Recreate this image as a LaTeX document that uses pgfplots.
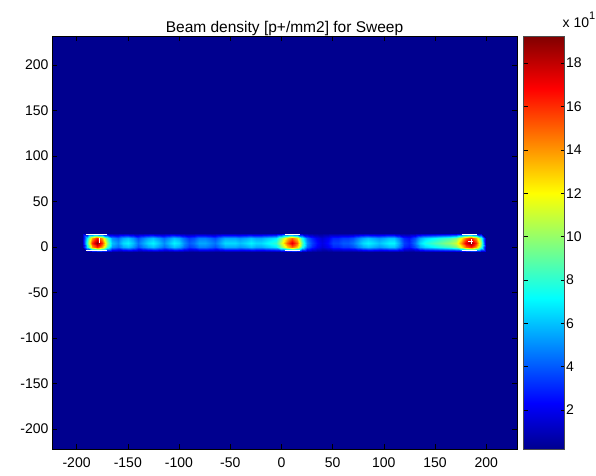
\documentclass[border=0pt]{standalone}
\usepackage{pgfplots}
\pgfplotsset{compat=1.18}
\usepackage{fontspec}
\setmainfont{Liberation Sans}
\definecolor{jetbg}{rgb}{0,0,0.5625}
\pgfplotsset{colormap={mjet}{rgb255(0cm)=(0,0,143); rgb255(7cm)=(0,0,255); rgb255(23cm)=(0,255,255); rgb255(39cm)=(255,255,0); rgb255(55cm)=(255,0,0); rgb255(63cm)=(128,0,0)}}
\begin{document}
\begin{tikzpicture}
\begin{axis}[name=main, scale only axis, width=465pt, height=413pt,
  xmin=-224, xmax=230, ymin=-222, ymax=232,
  axis background/.style={fill=jetbg},
  colormap name=mjet, point meta min=0.2, point meta max=19.25,
  xtick={-200,-150,...,200}, ytick={-200,-150,...,200},
  tick align=inside, major tick length=5pt, tick style={black, line width=0.5pt},
  ticklabel style={font=\fontsize{14}{16}\selectfont},
  xticklabel style={yshift=-5pt},
  /pgf/number format/assume math mode=true,
  title={Beam density [p+/mm2] for Sweep},
  title style={font=\fontsize{15.5}{18}\selectfont, anchor=base, at={(0.5,1)}, yshift=-2.5pt},
  axis line style={black, line width=0.6pt},
  colorbar, colorbar/width=41pt,
  colorbar style={scale only axis, height=413pt,
    at={(parent axis.north east)}, anchor=north west, xshift=-2pt,
    ytick={2,4,...,18}, ytick pos=both, yticklabel pos=right,
    tick align=inside, major tick length=4pt,
    ticklabel style={font=\fontsize{14}{16}\selectfont},
    yticklabel style={xshift=-2pt},
    /pgf/number format/assume math mode=true,
    axis line style={black!70, line width=0.6pt},
    title={x 10\raisebox{8pt}{\fontsize{11}{12}\selectfont 1}},
    title style={font=\fontsize{14}{16}\selectfont, at={(1,1)}, anchor=base west, xshift=-2pt, yshift=2pt, inner sep=0pt}},
]
\addplot[surf, shader=interp, point meta=explicit, mesh/rows=5, mesh/cols=80] table[x index=0, y index=1, meta index=2, row sep=\\, header=false] {
-195 -5 0.2\\ -190 -5 0.2\\ -185 -5 0.2\\ -180 -5 0.2\\ -175 -5 0.2\\ -170 -5 0.2\\ -165 -5 0.2\\ -160 -5 0.2\\
-155 -5 0.2\\ -150 -5 0.2\\ -145 -5 0.2\\ -140 -5 0.2\\ -135 -5 0.2\\ -130 -5 0.2\\ -125 -5 0.2\\ -120 -5 0.2\\
-115 -5 0.2\\ -110 -5 0.2\\ -105 -5 0.2\\ -100 -5 0.2\\ -95 -5 0.2\\ -90 -5 0.2\\ -85 -5 0.2\\ -80 -5 0.2\\
-75 -5 0.2\\ -70 -5 0.2\\ -65 -5 0.2\\ -60 -5 0.2\\ -55 -5 0.2\\ -50 -5 0.2\\ -45 -5 0.2\\ -40 -5 0.2\\
-35 -5 0.2\\ -30 -5 0.2\\ -25 -5 0.2\\ -20 -5 0.2\\ -15 -5 0.2\\ -10 -5 0.2\\ -5 -5 0.2\\ 0 -5 0.2\\
5 -5 0.2\\ 10 -5 0.2\\ 15 -5 0.2\\ 20 -5 0.2\\ 25 -5 0.2\\ 30 -5 0.2\\ 35 -5 0.2\\ 40 -5 0.2\\
45 -5 0.2\\ 50 -5 0.2\\ 55 -5 0.2\\ 60 -5 0.2\\ 65 -5 0.2\\ 70 -5 0.2\\ 75 -5 0.2\\ 80 -5 0.2\\
85 -5 0.2\\ 90 -5 0.2\\ 95 -5 0.2\\ 100 -5 0.2\\ 105 -5 0.2\\ 110 -5 0.2\\ 115 -5 0.2\\ 120 -5 0.2\\
125 -5 0.2\\ 130 -5 0.2\\ 135 -5 0.2\\ 140 -5 0.2\\ 145 -5 0.2\\ 150 -5 0.2\\ 155 -5 0.2\\ 160 -5 0.2\\
165 -5 0.2\\ 170 -5 0.2\\ 175 -5 0.2\\ 180 -5 0.2\\ 185 -5 0.2\\ 190 -5 0.2\\ 195 -5 0.2\\ 200 -5 0.2\\
-195 0 0.2\\ -190 0 6.8\\ -185 0 13.6\\ -180 0 16.3\\ -175 0 13.6\\ -170 0 8.5\\ -165 0 5.1\\ -160 0 4.3\\
-155 0 5.5\\ -150 0 6\\ -145 0 5.1\\ -140 0 3.8\\ -135 0 4.7\\ -130 0 5.5\\ -125 0 6\\ -120 0 5.1\\
-115 0 4.3\\ -110 0 5.1\\ -105 0 6\\ -100 0 5.5\\ -95 0 4.3\\ -90 0 3.4\\ -85 0 3.8\\ -80 0 4.7\\
-75 0 4.7\\ -70 0 4.3\\ -65 0 3.8\\ -60 0 4.7\\ -55 0 5.5\\ -50 0 5.5\\ -45 0 5.5\\ -40 0 5.1\\
-35 0 5.5\\ -30 0 6\\ -25 0 5.5\\ -20 0 5.5\\ -15 0 6\\ -10 0 6.4\\ -5 0 6.8\\ 0 0 9.4\\
5 0 12.8\\ 10 0 14.9\\ 15 0 12.8\\ 20 0 7.7\\ 25 0 4.3\\ 30 0 3\\ 35 0 2.1\\ 40 0 1.5\\
45 0 2.1\\ 50 0 3\\ 55 0 3\\ 60 0 3.4\\ 65 0 3.4\\ 70 0 3.8\\ 75 0 4.7\\ 80 0 5.5\\
85 0 6\\ 90 0 5.5\\ 95 0 5.1\\ 100 0 5.5\\ 105 0 6\\ 110 0 6\\ 115 0 4.7\\ 120 0 3\\
125 0 2.6\\ 130 0 3.8\\ 135 0 5.5\\ 140 0 6.4\\ 145 0 6.8\\ 150 0 7.2\\ 155 0 7.7\\ 160 0 8.1\\
165 0 8.5\\ 170 0 9.4\\ 175 0 11.9\\ 180 0 14.9\\ 185 0 16.3\\ 190 0 13.6\\ 195 0 8.5\\ 200 0 0.2\\
-195 5 0.2\\ -190 5 8\\ -185 5 16\\ -180 5 19.2\\ -175 5 16\\ -170 5 10\\ -165 5 6\\ -160 5 5\\
-155 5 6.5\\ -150 5 7\\ -145 5 6\\ -140 5 4.5\\ -135 5 5.5\\ -130 5 6.5\\ -125 5 7\\ -120 5 6\\
-115 5 5\\ -110 5 6\\ -105 5 7\\ -100 5 6.5\\ -95 5 5\\ -90 5 4\\ -85 5 4.5\\ -80 5 5.5\\
-75 5 5.5\\ -70 5 5\\ -65 5 4.5\\ -60 5 5.5\\ -55 5 6.5\\ -50 5 6.5\\ -45 5 6.5\\ -40 5 6\\
-35 5 6.5\\ -30 5 7\\ -25 5 6.5\\ -20 5 6.5\\ -15 5 7\\ -10 5 7.5\\ -5 5 8\\ 0 5 11\\
5 5 15\\ 10 5 17.5\\ 15 5 15\\ 20 5 9\\ 25 5 5\\ 30 5 3.5\\ 35 5 2.5\\ 40 5 1.8\\
45 5 2.5\\ 50 5 3.5\\ 55 5 3.5\\ 60 5 4\\ 65 5 4\\ 70 5 4.5\\ 75 5 5.5\\ 80 5 6.5\\
85 5 7\\ 90 5 6.5\\ 95 5 6\\ 100 5 6.5\\ 105 5 7\\ 110 5 7\\ 115 5 5.5\\ 120 5 3.5\\
125 5 3\\ 130 5 4.5\\ 135 5 6.5\\ 140 5 7.5\\ 145 5 8\\ 150 5 8.5\\ 155 5 9\\ 160 5 9.5\\
165 5 10\\ 170 5 11\\ 175 5 14\\ 180 5 17.5\\ 185 5 19.2\\ 190 5 16\\ 195 5 10\\ 200 5 0.2\\
-195 10 0.2\\ -190 10 6.8\\ -185 10 13.6\\ -180 10 16.3\\ -175 10 13.6\\ -170 10 8.5\\ -165 10 5.1\\ -160 10 4.3\\
-155 10 5.5\\ -150 10 6\\ -145 10 5.1\\ -140 10 3.8\\ -135 10 4.7\\ -130 10 5.5\\ -125 10 6\\ -120 10 5.1\\
-115 10 4.3\\ -110 10 5.1\\ -105 10 6\\ -100 10 5.5\\ -95 10 4.3\\ -90 10 3.4\\ -85 10 3.8\\ -80 10 4.7\\
-75 10 4.7\\ -70 10 4.3\\ -65 10 3.8\\ -60 10 4.7\\ -55 10 5.5\\ -50 10 5.5\\ -45 10 5.5\\ -40 10 5.1\\
-35 10 5.5\\ -30 10 6\\ -25 10 5.5\\ -20 10 5.5\\ -15 10 6\\ -10 10 6.4\\ -5 10 6.8\\ 0 10 9.4\\
5 10 12.8\\ 10 10 14.9\\ 15 10 12.8\\ 20 10 7.7\\ 25 10 4.3\\ 30 10 3\\ 35 10 2.1\\ 40 10 1.5\\
45 10 2.1\\ 50 10 3\\ 55 10 3\\ 60 10 3.4\\ 65 10 3.4\\ 70 10 3.8\\ 75 10 4.7\\ 80 10 5.5\\
85 10 6\\ 90 10 5.5\\ 95 10 5.1\\ 100 10 5.5\\ 105 10 6\\ 110 10 6\\ 115 10 4.7\\ 120 10 3\\
125 10 2.6\\ 130 10 3.8\\ 135 10 5.5\\ 140 10 6.4\\ 145 10 6.8\\ 150 10 7.2\\ 155 10 7.7\\ 160 10 8.1\\
165 10 8.5\\ 170 10 9.4\\ 175 10 11.9\\ 180 10 14.9\\ 185 10 16.3\\ 190 10 13.6\\ 195 10 8.5\\ 200 10 0.2\\
-195 15 0.2\\ -190 15 0.2\\ -185 15 0.2\\ -180 15 0.2\\ -175 15 0.2\\ -170 15 0.2\\ -165 15 0.2\\ -160 15 0.2\\
-155 15 0.2\\ -150 15 0.2\\ -145 15 0.2\\ -140 15 0.2\\ -135 15 0.2\\ -130 15 0.2\\ -125 15 0.2\\ -120 15 0.2\\
-115 15 0.2\\ -110 15 0.2\\ -105 15 0.2\\ -100 15 0.2\\ -95 15 0.2\\ -90 15 0.2\\ -85 15 0.2\\ -80 15 0.2\\
-75 15 0.2\\ -70 15 0.2\\ -65 15 0.2\\ -60 15 0.2\\ -55 15 0.2\\ -50 15 0.2\\ -45 15 0.2\\ -40 15 0.2\\
-35 15 0.2\\ -30 15 0.2\\ -25 15 0.2\\ -20 15 0.2\\ -15 15 0.2\\ -10 15 0.2\\ -5 15 0.2\\ 0 15 0.2\\
5 15 0.2\\ 10 15 0.2\\ 15 15 0.2\\ 20 15 0.2\\ 25 15 0.2\\ 30 15 0.2\\ 35 15 0.2\\ 40 15 0.2\\
45 15 0.2\\ 50 15 0.2\\ 55 15 0.2\\ 60 15 0.2\\ 65 15 0.2\\ 70 15 0.2\\ 75 15 0.2\\ 80 15 0.2\\
85 15 0.2\\ 90 15 0.2\\ 95 15 0.2\\ 100 15 0.2\\ 105 15 0.2\\ 110 15 0.2\\ 115 15 0.2\\ 120 15 0.2\\
125 15 0.2\\ 130 15 0.2\\ 135 15 0.2\\ 140 15 0.2\\ 145 15 0.2\\ 150 15 0.2\\ 155 15 0.2\\ 160 15 0.2\\
165 15 0.2\\ 170 15 0.2\\ 175 15 0.2\\ 180 15 0.2\\ 185 15 0.2\\ 190 15 0.2\\ 195 15 0.2\\ 200 15 0.2\\
};
\addplot[white, line width=1pt] coordinates {(-191,13.5) (-170,13.5)};
\addplot[white, line width=1pt] coordinates {(-191,-3.5) (-170,-3.5)};
\addplot[white, line width=1pt] coordinates {(3,13.5) (18,13.5)};
\addplot[white, line width=1pt] coordinates {(3,-3.5) (18,-3.5)};
\addplot[white, line width=1pt] coordinates {(176,13.5) (191,13.5)};
\addplot[white, line width=1pt] coordinates {(176,-3.5) (191,-3.5)};
\addplot[white, only marks, mark=|, mark size=2.5pt, line width=0.8pt] coordinates {(-178,7)};
\addplot[white, only marks, mark=+, mark size=2.5pt, line width=0.8pt] coordinates {(185,6)};
\end{axis}
\pgfresetboundingbox
\path[use as bounding box] (main.south west) ++(-52pt,-26pt) rectangle ++(596pt,475pt);
\end{tikzpicture}
\end{document}
